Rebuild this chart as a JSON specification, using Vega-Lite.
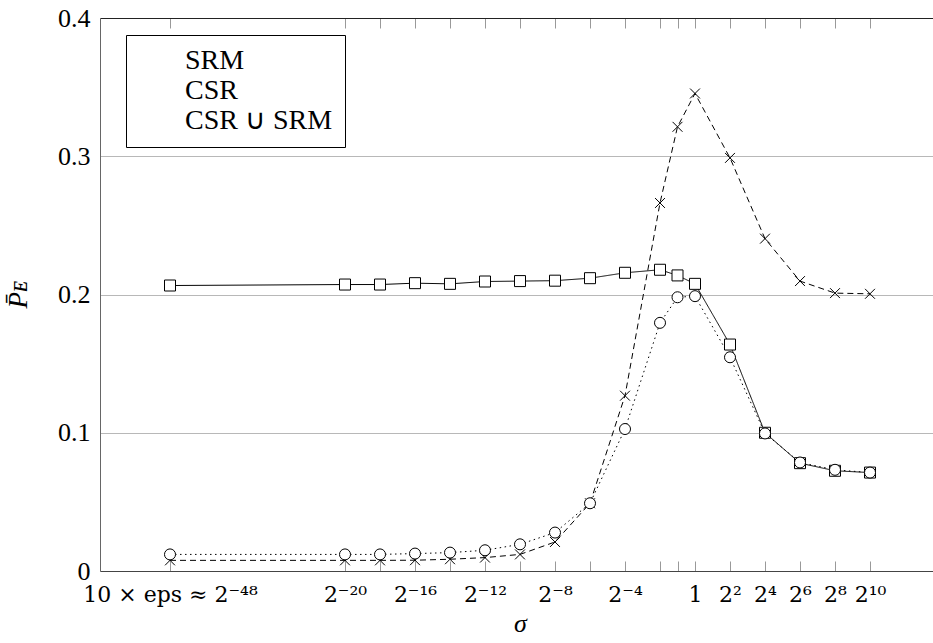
{
  "$schema": "https://vega.github.io/schema/vega-lite/v6.json",
  "width": 840,
  "height": 553,
  "autosize": {"type": "none"},
  "padding": {"left": 100, "top": 18, "right": 0, "bottom": 72},
  "background": "white",
  "config": {"view": {"stroke": null}, "font": "Liberation Serif"},
  "data": {
    "values": [
      {"method": "SRM", "log2_sigma": -48, "P_E": 0.2065},
      {"method": "SRM", "log2_sigma": -20, "P_E": 0.2072},
      {"method": "SRM", "log2_sigma": -18, "P_E": 0.2072},
      {"method": "SRM", "log2_sigma": -16, "P_E": 0.2082},
      {"method": "SRM", "log2_sigma": -14, "P_E": 0.2077},
      {"method": "SRM", "log2_sigma": -12, "P_E": 0.2094},
      {"method": "SRM", "log2_sigma": -10, "P_E": 0.2097},
      {"method": "SRM", "log2_sigma": -8, "P_E": 0.2100},
      {"method": "SRM", "log2_sigma": -6, "P_E": 0.2118},
      {"method": "SRM", "log2_sigma": -4, "P_E": 0.2157},
      {"method": "SRM", "log2_sigma": -2, "P_E": 0.2179},
      {"method": "SRM", "log2_sigma": -1, "P_E": 0.2138},
      {"method": "SRM", "log2_sigma": 0, "P_E": 0.2077},
      {"method": "SRM", "log2_sigma": 2, "P_E": 0.1638},
      {"method": "SRM", "log2_sigma": 4, "P_E": 0.1000},
      {"method": "SRM", "log2_sigma": 6, "P_E": 0.0780},
      {"method": "SRM", "log2_sigma": 8, "P_E": 0.0725},
      {"method": "SRM", "log2_sigma": 10, "P_E": 0.0712},
      {"method": "CSR", "log2_sigma": -48, "P_E": 0.0077},
      {"method": "CSR", "log2_sigma": -20, "P_E": 0.0077},
      {"method": "CSR", "log2_sigma": -18, "P_E": 0.0077},
      {"method": "CSR", "log2_sigma": -16, "P_E": 0.0078},
      {"method": "CSR", "log2_sigma": -14, "P_E": 0.0085},
      {"method": "CSR", "log2_sigma": -12, "P_E": 0.0097},
      {"method": "CSR", "log2_sigma": -10, "P_E": 0.0120},
      {"method": "CSR", "log2_sigma": -8, "P_E": 0.0210},
      {"method": "CSR", "log2_sigma": -6, "P_E": 0.0490},
      {"method": "CSR", "log2_sigma": -4, "P_E": 0.1268},
      {"method": "CSR", "log2_sigma": -2, "P_E": 0.2662},
      {"method": "CSR", "log2_sigma": -1, "P_E": 0.3213},
      {"method": "CSR", "log2_sigma": 0, "P_E": 0.3454},
      {"method": "CSR", "log2_sigma": 2, "P_E": 0.2988},
      {"method": "CSR", "log2_sigma": 4, "P_E": 0.2404},
      {"method": "CSR", "log2_sigma": 6, "P_E": 0.2097},
      {"method": "CSR", "log2_sigma": 8, "P_E": 0.2010},
      {"method": "CSR", "log2_sigma": 10, "P_E": 0.2005},
      {"method": "CSR ∪ SRM", "log2_sigma": -48, "P_E": 0.0120},
      {"method": "CSR ∪ SRM", "log2_sigma": -20, "P_E": 0.0120},
      {"method": "CSR ∪ SRM", "log2_sigma": -18, "P_E": 0.0120},
      {"method": "CSR ∪ SRM", "log2_sigma": -16, "P_E": 0.0126},
      {"method": "CSR ∪ SRM", "log2_sigma": -14, "P_E": 0.0133},
      {"method": "CSR ∪ SRM", "log2_sigma": -12, "P_E": 0.0150},
      {"method": "CSR ∪ SRM", "log2_sigma": -10, "P_E": 0.0193},
      {"method": "CSR ∪ SRM", "log2_sigma": -8, "P_E": 0.0278},
      {"method": "CSR ∪ SRM", "log2_sigma": -6, "P_E": 0.0490},
      {"method": "CSR ∪ SRM", "log2_sigma": -4, "P_E": 0.1027},
      {"method": "CSR ∪ SRM", "log2_sigma": -2, "P_E": 0.1795},
      {"method": "CSR ∪ SRM", "log2_sigma": -1, "P_E": 0.1980},
      {"method": "CSR ∪ SRM", "log2_sigma": 0, "P_E": 0.1988},
      {"method": "CSR ∪ SRM", "log2_sigma": 2, "P_E": 0.1546},
      {"method": "CSR ∪ SRM", "log2_sigma": 4, "P_E": 0.0995},
      {"method": "CSR ∪ SRM", "log2_sigma": 6, "P_E": 0.0785},
      {"method": "CSR ∪ SRM", "log2_sigma": 8, "P_E": 0.0732},
      {"method": "CSR ∪ SRM", "log2_sigma": 10, "P_E": 0.0712}
    ]
  },
  "layer": [
    {
      "mark": {"type": "line", "color": "black", "strokeWidth": 1},
      "encoding": {
        "x": {
          "field": "log2_sigma",
          "type": "quantitative",
          "scale": {"domain": [-52, -48, -20, 14], "range": [0, 70, 245, 840], "nice": false, "zero": false},
          "axis": {
            "orient": "bottom",
            "values": [-48, -20, -18, -16, -14, -12, -10, -8, -6, -4, -2, -1, 0, 2, 4, 6, 8, 10],
            "labelExpr": "datum.value == -48 ? '10 × eps ≈ 2⁻⁴⁸' : datum.value == -20 ? '2⁻²⁰' : datum.value == -16 ? '2⁻¹⁶' : datum.value == -12 ? '2⁻¹²' : datum.value == -8 ? '2⁻⁸' : datum.value == -4 ? '2⁻⁴' : datum.value == 0 ? '1' : datum.value == 2 ? '2²' : datum.value == 4 ? '2⁴' : datum.value == 6 ? '2⁶' : datum.value == 8 ? '2⁸' : datum.value == 10 ? '2¹⁰' : ''",
            "labelFont": "DejaVu Serif",
            "labelFontSize": 22,
            "labelColor": "black",
            "labelOverlap": false,
            "labelFlush": false,
            "labelPadding": 23,
            "tickSize": -10,
            "tickColor": "#999999",
            "tickWidth": 1,
            "domainColor": "#444444",
            "domainWidth": 1,
            "grid": false,
            "title": "σ",
            "titleFont": "Liberation Serif",
            "titleFontStyle": "italic",
            "titleFontWeight": "normal",
            "titleFontSize": 26,
            "titleColor": "black",
            "titlePadding": 5
          }
        },
        "y": {
          "field": "P_E",
          "type": "quantitative",
          "scale": {"domain": [0, 0.4], "nice": false},
          "axis": {
            "values": [0, 0.1, 0.2, 0.3, 0.4],
            "labelExpr": "datum.value == 0 ? '0' : format(datum.value, '.1f')",
            "labelFont": "Liberation Serif",
            "labelFontSize": 26,
            "labelColor": "black",
            "labelPadding": 10,
            "ticks": false,
            "grid": true,
            "gridColor": "#b8b8b8",
            "gridWidth": 1,
            "domainColor": "#666666",
            "domainWidth": 1,
            "title": "P̄ᴇ",
            "titleFont": "Liberation Serif",
            "titleFontStyle": "italic",
            "titleFontWeight": "normal",
            "titleFontSize": 27,
            "titleColor": "black",
            "titlePadding": 25
          }
        },
        "strokeDash": {
          "field": "method",
          "type": "nominal",
          "scale": {"domain": ["SRM", "CSR", "CSR ∪ SRM"], "range": [[1, 0], [6, 4], [1.5, 3.5]]},
          "legend": {
            "title": null,
            "orient": "none",
            "legendX": 26,
            "legendY": 17,
            "strokeColor": "black",
            "fillColor": "white",
            "padding": 12,
            "labelFont": "Liberation Serif",
            "labelFontSize": 28,
            "labelColor": "black",
            "symbolSize": 121,
            "symbolStrokeWidth": 1,
            "symbolFillColor": "white",
            "symbolStrokeColor": "black",
            "symbolOffset": 5,
            "labelOffset": 14,
            "rowPadding": 2,
            "cornerRadius": 0
          }
        }
      }
    },
    {
      "mark": {"type": "point", "filled": false, "fill": "white", "fillOpacity": 1, "stroke": "black", "strokeWidth": 1, "size": 121, "opacity": 1},
      "encoding": {
        "x": {
          "field": "log2_sigma",
          "type": "quantitative",
          "axis": {
            "orient": "top",
            "values": [-48, -20, -18, -16, -14, -12, -10, -8, -6, -4, -2, -1, 0, 2, 4, 6, 8, 10],
            "labels": false,
            "tickSize": -10,
            "tickColor": "#999999",
            "tickWidth": 1,
            "domainColor": "#222222",
            "domainWidth": 1,
            "grid": false,
            "title": null
          }
        },
        "y": {"field": "P_E", "type": "quantitative"},
        "shape": {
          "field": "method",
          "type": "nominal",
          "scale": {"domain": ["SRM", "CSR", "CSR ∪ SRM"], "range": ["square", "M-0.9,-0.9L0.9,0.9M-0.9,0.9L0.9,-0.9", "circle"]},
          "legend": {
            "title": null,
            "orient": "none",
            "legendX": 26,
            "legendY": 17,
            "strokeColor": "black",
            "fillColor": "white",
            "padding": 12,
            "labelFont": "Liberation Serif",
            "labelFontSize": 28,
            "labelColor": "black",
            "symbolSize": 121,
            "symbolStrokeWidth": 1,
            "symbolFillColor": "white",
            "symbolStrokeColor": "black",
            "symbolOffset": 5,
            "labelOffset": 14,
            "rowPadding": 2,
            "cornerRadius": 0
          }
        }
      }
    }
  ],
  "resolve": {"axis": {"x": "independent"}}
}
